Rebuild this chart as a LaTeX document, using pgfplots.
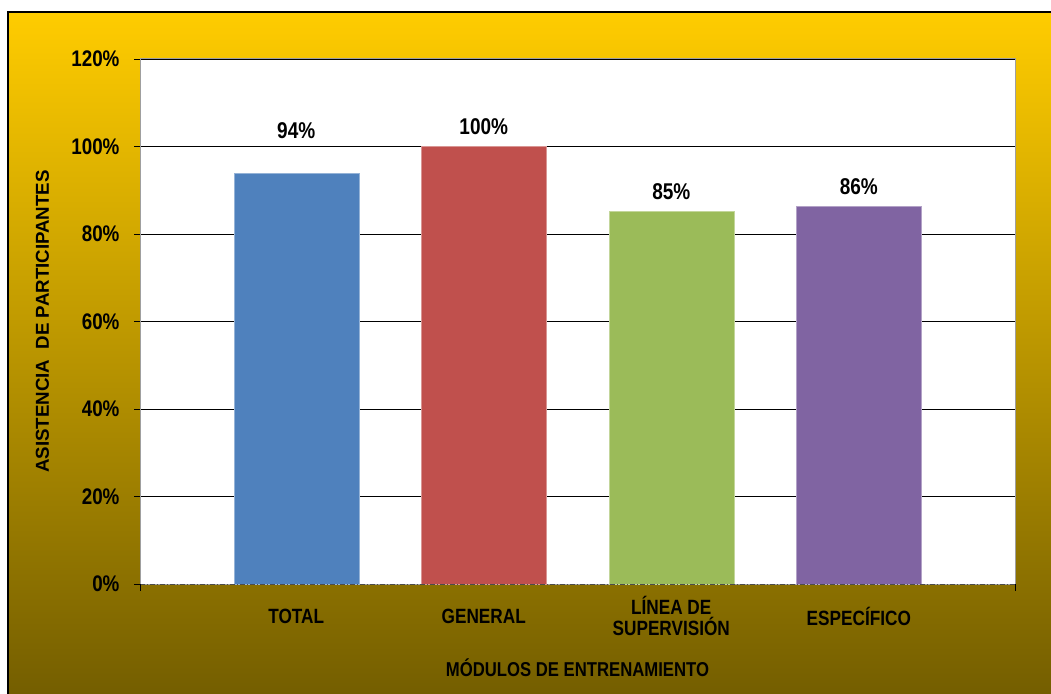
\documentclass[border=0pt]{standalone}
\usepackage{pgfplots}
\pgfplotsset{compat=1.18}
\usepackage{fontspec}
\setmainfont{Liberation Sans}
\definecolor{bBlue}{RGB}{79,129,189}
\definecolor{bRed}{RGB}{192,80,77}
\definecolor{bGreen}{RGB}{155,187,89}
\definecolor{bPurple}{RGB}{128,100,162}
\definecolor{bgTop}{RGB}{255,204,0}
\definecolor{bgMid}{RGB}{196,158,0}
\definecolor{bgBot}{RGB}{116,94,0}
\newcommand\st[1]{\scalebox{1}[1.2]{#1}}
\begin{document}
\begin{tikzpicture}[x=1pt,y=1pt]
\path[use as bounding box] (0,0) rectangle (1051,693);
\clip (0,0) rectangle (1051,693);
\fill[white] (0,0) rectangle (1051,693);
\shade[top color=bgTop, middle color=bgMid, bottom color=bgBot] (8,-2) rectangle (1053,681);
\draw[black, line width=1.3pt] (8,-2) -- (8,681) -- (1053,681);
\begin{axis}[
  at={(140pt,109pt)}, anchor=south west,
  scale only axis, width=875pt, height=525pt,
  xmin=-0.833, xmax=3.833, ymin=0, ymax=120,
  axis background/.style={fill=white},
  ybar, bar width=125pt,
  ytick={0,20,...,120},
  yticklabel={\st{\pgfmathprintnumber{\tick}\%}},
  /pgf/number format/assume math mode=true,
  ymajorgrids, major grid style={black, line width=0.9pt},
  axis line style={gray!75, line width=1pt},
  ytick pos=left, tick align=outside, major tick length=6pt,
  ytick style={black, line width=0.8pt},
  xtick={0,1,2,3},
  xticklabels={\st{TOTAL}, \st{GENERAL}, {\st{LÍNEA DE}\\\st{SUPERVISIÓN}}, \st{ESPECÍFICO}},
  xtick style={draw=none},
  xtick pos=bottom,
  x tick label style={font=\fontsize{17.2}{21}\selectfont\bfseries, align=center, anchor=center, yshift=-26pt},
  y tick label style={font=\fontsize{18.8}{20}\selectfont\bfseries, xshift=-11pt},
  xlabel={\st{MÓDULOS DE ENTRENAMIENTO}},
  xlabel style={font=\fontsize{16.7}{18}\selectfont\bfseries, at={(axis description cs:0.5,-0.16)}, anchor=center},
  ylabel={ASISTENCIA\ \ DE PARTICIPANTES},
  ylabel style={font=\fontsize{18.7}{20}\selectfont\bfseries, at={(axis description cs:-0.1115,0.5)}, anchor=center},
  clip=false,
]
\addplot[fill=bBlue, draw=bBlue!60!white, bar shift=0pt] coordinates {(0,93.8)};
\addplot[fill=bRed, draw=bRed!60!white, bar shift=0pt] coordinates {(1,100)};
\addplot[fill=bGreen, draw=bGreen!60!white, bar shift=0pt] coordinates {(2,85.1)};
\addplot[fill=bPurple, draw=bPurple!60!white, bar shift=0pt] coordinates {(3,86.3)};
\draw[black!70, line width=1pt, dash pattern=on 5pt off 2pt on 1pt off 2pt] (axis cs:-0.833,0) -- (axis cs:3.833,0);
\draw[black, line width=0.8pt] (axis cs:-0.833,0) -- ++(0pt,-7pt);
\draw[black, line width=0.8pt] (axis cs:3.833,0) -- ++(0pt,-7pt);
\node[font=\fontsize{19}{21}\selectfont\bfseries] at (axis cs:0,103.7) {\st{94\%}};
\node[font=\fontsize{19}{21}\selectfont\bfseries] at (axis cs:1,104.6) {\st{100\%}};
\node[font=\fontsize{19}{21}\selectfont\bfseries] at (axis cs:2,89.7) {\st{85\%}};
\node[font=\fontsize{19}{21}\selectfont\bfseries] at (axis cs:3,90.8) {\st{86\%}};
\end{axis}
\end{tikzpicture}
\end{document}
